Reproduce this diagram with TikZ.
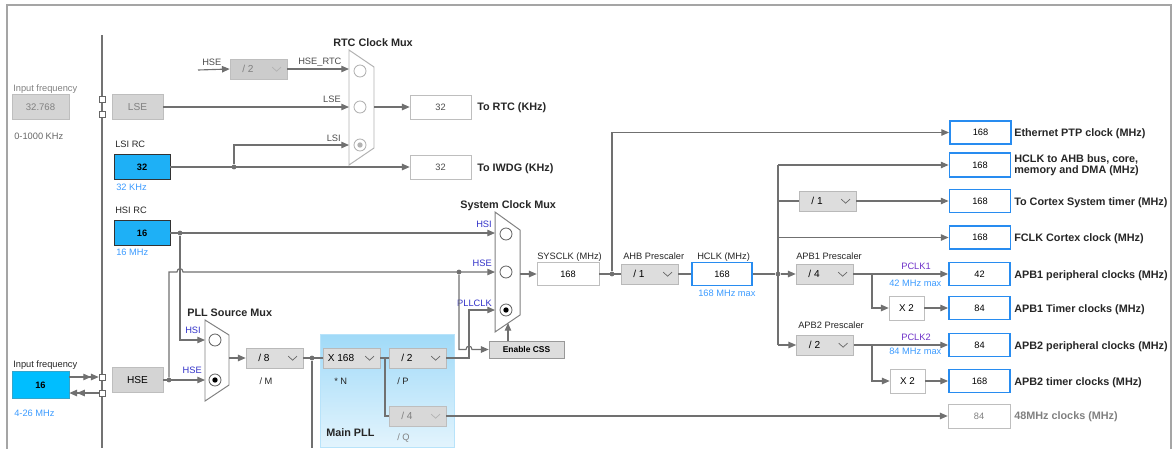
\documentclass[tikz,border=0pt]{standalone}
\usepackage{fontspec}
\setmainfont{Liberation Sans}
\usetikzlibrary{arrows.meta,calc}

\definecolor{wirec}{RGB}{112,112,112}
\definecolor{frameg}{RGB}{165,165,165}
\definecolor{srcfill}{RGB}{30,176,246}
\definecolor{infill}{RGB}{0,190,255}
\definecolor{offfill}{RGB}{212,212,212}
\definecolor{offedge}{RGB}{190,190,190}
\definecolor{dropfill}{RGB}{221,221,221}
\definecolor{dropedge}{RGB}{185,185,185}
\definecolor{outblue}{RGB}{40,140,240}
\definecolor{valblue}{RGB}{60,155,255}
\definecolor{selblue}{RGB}{50,50,200}
\definecolor{pclkcol}{RGB}{110,50,200}
\definecolor{txtgray}{RGB}{128,128,128}
\definecolor{pllblue}{RGB}{160,218,248}

\newcommand{\ddt}[1]{\makebox[1.425cm][l]{\makebox[0.9cm]{#1}}}

\tikzset{
  wire/.style={draw=wirec, line width=0.8pt},
  feed/.style={wire, -{Triangle[length=5.5pt,width=4.6pt]}},
  lab/.style={font=\fontsize{6.6}{8}\selectfont, text=black!85, inner sep=0pt, anchor=base west},
  hdr/.style={font=\fontsize{7.7}{9}\bfseries\selectfont, text=black!85, inner sep=0pt, anchor=base west},
  box/.style={draw, inner sep=0pt, font=\fontsize{6.6}{8}\selectfont},
  srcbox/.style={box, draw=black!80, fill=srcfill, minimum width=1.4cm, minimum height=0.625cm, font=\fontsize{6.6}{8}\bfseries\selectfont},
  inbox/.style={box, draw=infill!60!gray, fill=infill, minimum width=1.425cm, minimum height=0.675cm, font=\fontsize{6.6}{8}\bfseries\selectfont},
  offbox/.style={box, draw=offedge, fill=offfill, minimum width=1.275cm, minimum height=0.625cm, font=\fontsize{7.2}{9}\selectfont},
  chev/.style={path picture={\draw[#1, line width=0.5pt] ([xshift=-0.37cm, yshift=1.3pt]path picture bounding box.east) -- ++(0.11cm,-0.1cm) -- ++(0.11cm,0.1cm);}},
  drop/.style={box, draw=dropedge, fill=dropfill, minimum width=1.425cm, minimum height=0.5cm, font=\fontsize{7.2}{9}\selectfont, chev=black!60},
  dropoff/.style={box, draw=offedge, fill=black!20, text=txtgray, minimum width=1.425cm, minimum height=0.5cm, font=\fontsize{7.2}{9}\selectfont, chev=black!30},
  outbox/.style={box, draw=outblue, line width=1.3pt, fill=white, minimum width=1.525cm, minimum height=0.575cm},
  greybox/.style={box, draw=offedge, fill=white, minimum width=1.525cm, minimum height=0.6cm},
  plainbox/.style={box, draw=offedge, fill=white},
  pin/.style={draw=black!60, fill=white, minimum size=0.15cm, inner sep=0pt},
  dot/.style={circle, fill=wirec, minimum size=3.4pt, inner sep=0pt},
  muxbody/.style={draw=black!50, fill=white, line width=0.7pt},
  muxpin/.style={circle, draw=black!60, fill=white, minimum size=0.3cm, inner sep=0pt, line width=0.6pt},
  muxsel/.style={muxpin, path picture={\fill[#1] (path picture bounding box.center) circle (1.9pt);}},
}

\begin{document}
\begin{tikzpicture}[x=0.025cm,y=-0.025cm]
\useasboundingbox (0,0) rectangle (1174,448);
\draw[frameg, line width=1.6pt] (7,460) -- (7,5) -- (1171,5) -- (1171,460);
\coordinate (busTop) at (102,35);
\coordinate (busBot) at (102,448);
\draw[wire, draw=black!55] (busTop) -- (busBot);

\shade[shading=axis, shading angle=60, top color=pllblue, bottom color=pllblue!30!white] (320,334) rectangle (454,447);
\draw[pllblue!75, line width=0.5pt] (320,334) rectangle (454,447);

\node[lab, text=txtgray] (lsefreqlbl) at (13,91) {Input frequency};
\node[offbox, minimum width=1.425cm, text=txtgray, font=\fontsize{6.8}{8}\selectfont] (lsefreq) at (40.5,107) {32.768};
\node[lab, text=black!60] (lserange) at (14,139) {0-1000 KHz};
\node[pin] (lsepinA) at (102,99) {};
\node[pin] (lsepinB) at (102,114) {};
\node[offbox, text=txtgray] (lse) at (137.5,107) {LSE};

\coordinate (hsertc) at (198,70);
\node[lab, text=black!70] (hsertclbl) at (202,65) {HSE};
\node[dropoff] (rtcdiv) at (258.5,69) {\ddt{/ 2}};
\node[lab, text=black!70] (hsertcout) at (298,64) {HSE\_RTC};
\node[lab, text=black!70, anchor=base east] (rtclselbl) at (341,102) {LSE};
\node[lab, text=black!70, anchor=base east] (rtclsilbl) at (341,141) {LSI};
\draw[muxbody, draw=black!30] (349,50) -- (374,67) -- (374,148) -- (349,165) -- cycle;
\node[muxpin, draw=black!30] (rtcA) at (360,71) {};
\node[muxpin, draw=black!30] (rtcB) at (360,107) {};
\node[muxsel=black!30, draw=black!30] (rtcC) at (360,145) {};
\coordinate (rtcinA) at (349,69);
\coordinate (rtcinB) at (349,107);
\coordinate (rtcinC) at (349,145);
\coordinate (rtcmout) at (374,107);
\node[hdr, anchor=base] (rtcmuxlbl) at (373,46) {RTC Clock Mux};
\node[greybox, text=black!70] (rtcout) at (440.5,107) {32};
\node[hdr] (rtcoutlbl) at (477,110) {To RTC (KHz)};
\node[greybox, text=black!70] (iwdgout) at (440.5,167) {32};
\node[hdr] (iwdgoutlbl) at (477,171) {To IWDG (KHz)};

\node[lab] (lsilbl) at (115,147) {LSI RC};
\node[srcbox] (lsi) at (142,167) {32};
\node[lab, text=valblue] (lsirange) at (116,190) {32 KHz};
\node[dot] (lsij) at (234,167) {};

\node[lab] (hsilbl) at (115,213) {HSI RC};
\node[srcbox] (hsi) at (142,233) {16};
\node[lab, text=valblue] (hsirange) at (116,255) {16 MHz};
\node[dot] (hsij) at (180,233) {};

\node[lab] (hsefreqlbl) at (13,367) {Input frequency};
\node[inbox] (hsefreq) at (40.5,385) {16};
\node[lab, text=valblue] (hserange) at (14,416) {4-26 MHz};
\node[pin] (hsepinA) at (102,377) {};
\node[pin] (hsepinB) at (102,393) {};
\node[offbox] (hse) at (137.5,380) {HSE};
\node[dot] (hsej) at (169,380) {};

\draw[muxbody] (205,320) -- (229,335) -- (229,385) -- (205,401) -- cycle;
\node[muxpin] (pllA) at (215,340) {};
\node[muxsel=black] (pllB) at (215,380) {};
\coordinate (pllinA) at (205,340);
\coordinate (pllinB) at (205,380);
\coordinate (pllmout) at (229,358);
\node[hdr] (pllmuxlbl) at (187,316) {PLL Source Mux};
\node[lab, text=selblue, anchor=base east] (pllhsilbl) at (201,333) {HSI};
\node[lab, text=selblue, anchor=base east] (pllhselbl) at (202,373) {HSE};

\node[drop] (pllm) at (274.5,358) {\ddt{/ 8}};
\node[lab, anchor=base] (pllmlbl) at (266,384) {/ M};
\node[dot] (pllj) at (312,358) {};
\coordinate (pllbot) at (312,448);
\node[drop] (plln) at (351.5,358) {\ddt{X 168}};
\node[lab] (pllnlbl) at (334,384) {* N};
\coordinate (qj) at (385,358);
\node[drop] (pllp) at (417.5,358) {\ddt{/ 2}};
\node[lab] (pllplbl) at (397,384) {/ P};
\node[dropoff, fill=offfill!90!white] (pllq) at (417.5,416) {\ddt{/ 4}};
\node[lab, text=txtgray] (pllqlbl) at (397,440) {/ Q};
\node[hdr] (mainpll) at (326,436) {Main PLL};

\draw[muxbody] (495,212) -- (520,230) -- (520,315) -- (495,332) -- cycle;
\node[muxpin] (sysA) at (506,234) {};
\node[muxpin] (sysB) at (506,272) {};
\node[muxsel=black] (sysC) at (506,310) {};
\coordinate (sysinA) at (495,233);
\coordinate (sysinB) at (495,272);
\coordinate (sysinC) at (495,310);
\coordinate (sysmout) at (520,274);
\coordinate (syscss) at (508,323);
\node[hdr] (sysmuxlbl) at (460,208) {System Clock Mux};
\node[lab, text=selblue, anchor=base east] (syshsilbl) at (492,227) {HSI};
\node[lab, text=selblue, anchor=base east] (syshselbl) at (492,266) {HSE};
\node[lab, text=selblue, anchor=base east] (syspllclbl) at (492,306) {PLLCLK};
\node[dot] (cssj) at (459,272) {};
\coordinate (pllbend) at (469,310);
\node[box, draw=black!40, fill=dropfill, minimum width=1.875cm, minimum height=0.425cm, font=\fontsize{6}{7}\bfseries\selectfont] (css) at (526.5,349.5) {Enable CSS};

\node[plainbox, text=black, minimum width=1.55cm, minimum height=0.575cm] (sysclk) at (568,274) {168};
\node[lab] (sysclklbl) at (537,259) {SYSCLK (MHz)};
\node[dot] (ethj) at (612,274) {};
\node[drop] (ahb) at (649.5,274) {\ddt{/ 1}};
\node[lab] (ahblbl) at (623,259) {AHB Prescaler};
\node[outbox, minimum width=1.5cm] (hclk) at (722,274) {168};
\node[lab] (hclklbl) at (697,259) {HCLK (MHz)};
\node[lab, text=valblue] (hclkmax) at (698,296) {168 MHz max};
\node[dot] (apbj) at (778,274) {};

\node[outbox] (ethout) at (980.5,132.5) {168};
\node[hdr] (ethlbl) at (1014,136) {Ethernet PTP clock (MHz)};
\node[outbox, minimum height=0.6cm] (ahbout) at (980,165) {168};
\node[hdr] (ahblblA) at (1014,162) {HCLK to AHB bus, core,};
\node[hdr] (ahblblB) at (1014,173) {memory and DMA (MHz)};
\node[drop] (cortexdiv) at (827.5,201) {\ddt{/ 1}};
\node[outbox] (cortexout) at (980,201) {168};
\node[hdr] (cortexlbl) at (1014,205) {To Cortex System timer (MHz)};
\node[outbox] (fclkout) at (980,237.5) {168};
\node[hdr] (fclklbl) at (1014,241) {FCLK Cortex clock (MHz)};

\node[drop] (apb1) at (824.5,274) {\ddt{/ 4}};
\node[lab] (apb1lbl) at (796,259) {APB1 Prescaler};
\node[outbox] (apb1out) at (979.5,274) {42};
\node[hdr] (apb1outlbl) at (1014,278) {APB1 peripheral clocks (MHz)};
\node[lab, text=pclkcol, anchor=base] (pclk1lbl) at (916,269) {PCLK1};
\node[lab, text=valblue] (pclk1max) at (889,286) {42 MHz max};
\coordinate (t1j) at (872,274);
\node[plainbox, minimum width=0.875cm, minimum height=0.6cm, font=\fontsize{7}{8}\selectfont] (x2a) at (906.5,308) {X 2};
\node[outbox] (apb1tim) at (979.5,308) {84};
\node[hdr] (apb1timlbl) at (1014,312) {APB1 Timer clocks (MHz)};

\node[drop] (apb2) at (825,345) {\ddt{/ 2}};
\node[lab] (apb2lbl) at (798,328) {APB2 Prescaler};
\node[outbox] (apb2out) at (979.5,345) {84};
\node[hdr] (apb2outlbl) at (1014,349) {APB2 peripheral clocks (MHz)};
\node[lab, text=pclkcol, anchor=base] (pclk2lbl) at (916,340) {PCLK2};
\node[lab, text=valblue] (pclk2max) at (889,354) {84 MHz max};
\coordinate (t2j) at (872,345);
\node[plainbox, minimum width=0.875cm, minimum height=0.6cm, font=\fontsize{7}{8}\selectfont] (x2b) at (907.5,381) {X 2};
\node[outbox] (apb2tim) at (979.5,381) {168};
\node[hdr] (apb2timlbl) at (1014,385) {APB2 timer clocks (MHz)};

\node[greybox, text=txtgray, minimum width=1.55cm] (usbout) at (979,416) {84};
\node[hdr, text=txtgray] (usblbl) at (1014,419) {48MHz clocks (MHz)};

\draw[feed] (lse.east) -- (rtcinB);
\draw[feed] (hsertc) -- (rtcdiv.west);
\draw[feed] (rtcdiv.east) -- (rtcinA);
\draw[feed] (rtcmout) -- (rtcout.west);
\draw[feed] (lsi.east) -- (iwdgout.west);
\draw[feed] (lsij) |- (rtcinC);

\draw[wire, -{Triangle[length=5.5pt,width=4.6pt]Triangle[length=5.5pt,width=4.6pt]}] (hsefreq.east |- hsepinA) -- (hsepinA.west);
\draw[wire, {Triangle[length=5.5pt,width=4.6pt]Triangle[length=5.5pt,width=4.6pt]}-] (hsefreq.east |- hsepinB) -- (hsepinB.west);

\draw[feed] (hsi.east) -- (sysinA);
\draw[feed] (hsij) |- (pllinA);
\draw[feed] (hse.east) -- (pllinB);
\draw[feed] (hsej) -- (hsej |- sysinB) -- ($(hsij |- sysinB)+(-3,0)$) .. controls +(0,-4.5) and +(0,-4.5) .. ($(hsij |- sysinB)+(3,0)$) -- (sysinB);

\draw[feed] (pllmout) -- (pllm.west);
\draw[wire] (pllm.east) -- (plln.west);
\draw[wire] (pllj) -- (pllbot);
\draw[wire] (plln.east) -- (pllp.west);
\draw[wire] (qj) |- (pllq.west);
\draw[feed] (pllq.east) -- (usbout.west);
\draw[feed] (pllp.east) -| (pllbend) -- (sysinC);
\draw[feed] (cssj) |- ($(pllbend |- css.west)+(-3,0)$) .. controls +(0,-4.5) and +(0,-4.5) .. ($(pllbend |- css.west)+(3,0)$) -- (css.west);
\draw[feed] (css.north -| syscss) -- (syscss);

\draw[feed] (sysmout) -- (sysclk.west);
\draw[wire] (sysclk.east) -- (ahb.west);
\draw[feed] (ethj) |- (ethout.west);
\draw[wire] (ahb.east) -- (hclk.west);
\draw[wire] (hclk.east) -- (apbj);
\draw[wire] (ahbout.west -| apbj) -- (apb2.west -| apbj);
\draw[feed] (ahbout.west -| apbj) -- (ahbout.west);
\draw[wire] (cortexdiv.west -| apbj) -- (cortexdiv.west);
\draw[feed] (cortexdiv.east) -- (cortexout.west);
\draw[feed] (fclkout.west -| apbj) -- (fclkout.west);
\draw[feed] (apbj) -- (apb1.west);
\draw[feed] (apb2.west -| apbj) -- (apb2.west);
\draw[feed] (apb1.east) -- (apb1out.west);
\draw[feed] (t1j) |- (x2a.west);
\draw[feed] (x2a.east) -- (apb1tim.west);
\draw[feed] (apb2.east) -- (apb2out.west);
\draw[feed] (t2j) |- (x2b.west);
\draw[feed] (x2b.east) -- (apb2tim.west);
\end{tikzpicture}
\end{document}
